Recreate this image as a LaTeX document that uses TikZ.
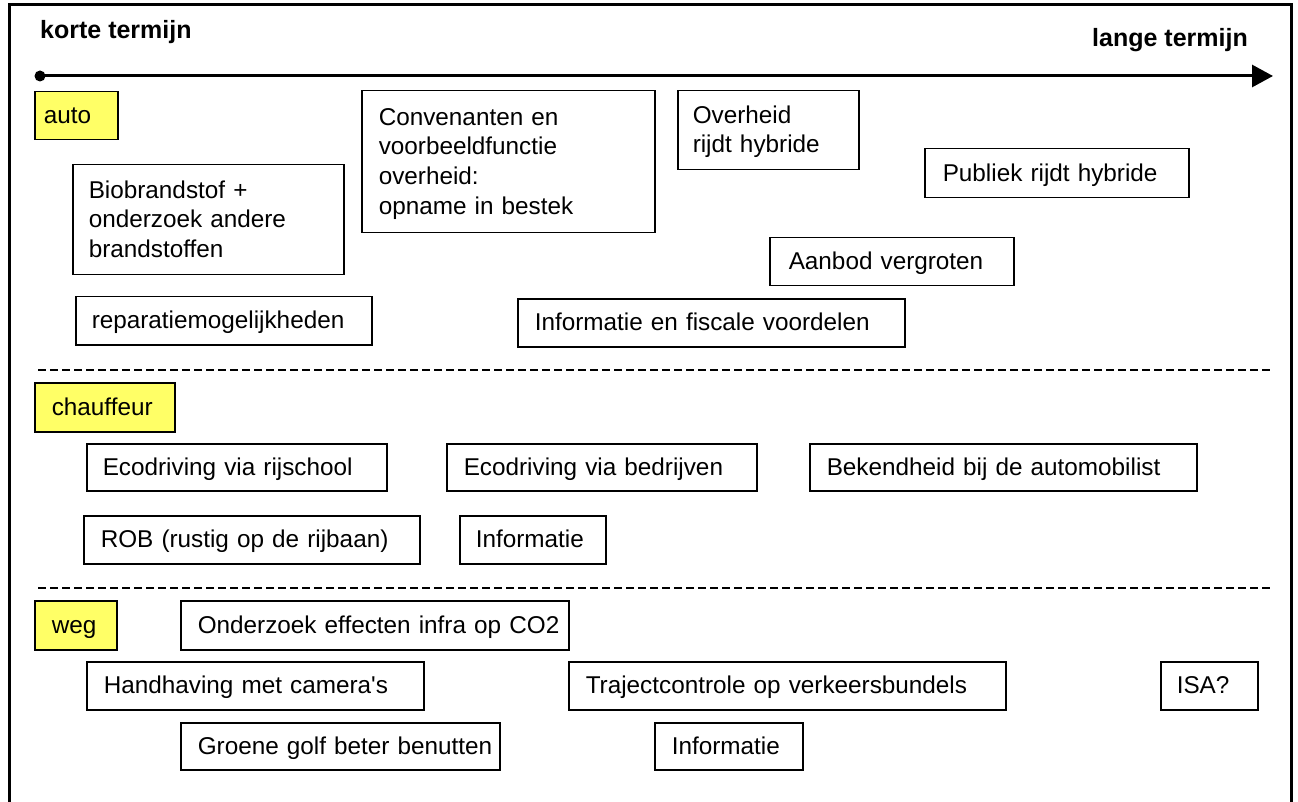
\documentclass[tikz,border=0pt]{standalone}
\usepackage{fontspec}
\setmainfont{Liberation Sans}
\usetikzlibrary{arrows.meta}
\definecolor{labelyellow}{RGB}{255,255,102}

\tikzset{
  x=1pt, y=-1pt,
  boxtext/.style={font=\fontsize{24.3}{29.6}\selectfont},
  itembox/.style={boxtext, draw=black, line width=1.5pt, fill=white,
    anchor=north west, inner ysep=0pt, align=left},
  sectionbox/.style={itembox, fill=labelyellow},
  frameline/.style={line width=3pt},
  timeline/.style={line width=3pt, -{Triangle[length=21pt,width=22pt]}},
  separator/.style={line width=1.3pt, dash pattern=on 8pt off 4pt},
  heading/.style={font=\fontsize{25}{30}\selectfont\bfseries, inner sep=0pt}
}

% #1 padding, #2 style, #3 name, #4-#7 corners (x1,y1,x2,y2), #8 text
% the text block sits 2pt below the vertical middle of its box
\newcommand\placebox[8][17]{%
  \node[#2, inner xsep=#1pt,
        text width=\dimexpr #6pt-#4pt-#1pt-#1pt\relax,
        minimum height=\dimexpr #7pt-#5pt\relax]
    (#3) at (#4,#5)
    {\raisebox{0pt}[\dimexpr\height+2pt][\dimexpr\depth-2pt]{%
       \begin{tabular}{@{}l@{}}#8\end{tabular}}};}

\begin{document}
\begin{tikzpicture}
\useasboundingbox (0,0) rectangle (1298,802);

% outer frame, open at the bottom
\draw[frameline] (9,802) -- (9,5) -- (1291.5,5) -- (1291.5,802);

% time axis
\node[heading, anchor=base west] (short) at (40,39) {korte termijn};
\node[heading, anchor=base east] (long) at (1248,47) {lange termijn};
\coordinate (tstart) at (40,76);
\coordinate (tend) at (1273,76);
\draw[timeline] (tstart) -- (tend);
\fill (tstart) circle (5.5);

% section separators
\coordinate (sepAa) at (38,370);
\coordinate (sepAb) at (1273,370);
\coordinate (sepBa) at (38,588);
\coordinate (sepBb) at (1273,588);
\draw[separator] (sepAa) -- (sepAb);
\draw[separator] (sepBa) -- (sepBb);

% section labels
\placebox[9]{sectionbox}{auto}{34}{91}{117}{139}{auto}
\placebox[17]{sectionbox}{chauffeur}{34}{382}{174}{431}{chauffeur}
\placebox[17]{sectionbox}{weg}{34}{600}{116}{649}{weg}

% auto
\placebox[16]{itembox}{bio}{72}{164}{343}{274}{Biobrandstof +\\onderzoek andere\\brandstoffen}
\placebox[16]{itembox}{repair}{75}{296}{371}{344}{reparatiemogelijkheden}
\placebox[17]{itembox}{conv}{361}{90}{654}{232}{Convenanten en\\voorbeeldfunctie\\overheid:\\opname in bestek}
\placebox[15]{itembox}{govhyb}{677}{90}{858}{169}{Overheid\\rijdt hybride}
\placebox[18]{itembox}{pubhyb}{924}{148}{1188}{197}{Publiek rijdt hybride}
\placebox[19]{itembox}{supply}{769}{237}{1013}{285}{Aanbod vergroten}
\placebox[17]{itembox}{fiscal}{517}{298}{904}{346}{Informatie en fiscale voordelen}

% chauffeur
\placebox[16]{itembox}{ecoschool}{86}{443}{386}{490}{Ecodriving via rijschool}
\placebox[17]{itembox}{ecocomp}{446}{443}{756}{490}{Ecodriving via bedrijven}
\placebox[17]{itembox}{aware}{809}{443}{1196}{490}{Bekendheid bij de automobilist}
\placebox[17]{itembox}{rob}{83}{515}{419}{563}{ROB (rustig op de rijbaan)}
\placebox[16]{itembox}{infodriver}{459}{515}{605}{563}{Informatie}

% weg
\placebox[17]{itembox}{research}{180}{600}{568}{649}{Onderzoek effecten infra op CO2}
\placebox[17]{itembox}{cameras}{86}{661}{423}{709}{Handhaving met camera\textquotesingle s}
\placebox[17]{itembox}{section}{568}{661}{1005}{709}{Trajectcontrole op verkeersbundels}
\placebox[16]{itembox}{isa}{1160}{661}{1257}{709}{ISA?}
\placebox[17]{itembox}{greenwave}{180}{722}{499}{769}{Groene golf beter benutten}
\placebox[17]{itembox}{inforoad}{654}{722}{802}{769}{Informatie}
\end{tikzpicture}
\end{document}
